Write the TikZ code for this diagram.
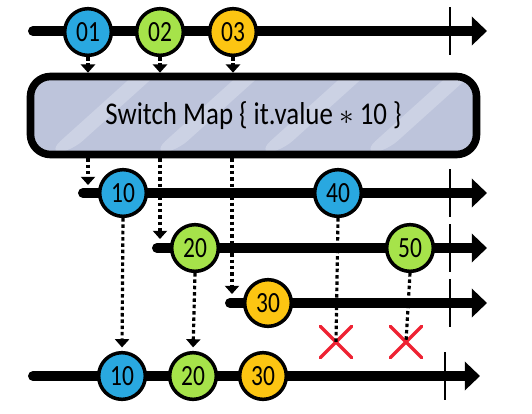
\documentclass[tikz,border=0pt]{standalone}
\usepackage{fontspec}
\setmainfont{Carlito}[FakeStretch=0.85]
\newfontfamily\marblefont{Carlito}[FakeStretch=0.8]
\usetikzlibrary{arrows.meta, positioning, calc, shapes.misc}

\definecolor{marbleblue}{HTML}{29A8E0}
\definecolor{marblegreen}{HTML}{A6E34A}
\definecolor{marbleyellow}{HTML}{FCC512}
\definecolor{opfill}{HTML}{BDC4DB}
\definecolor{opstripe}{HTML}{CCD2E4}
\definecolor{dropred}{HTML}{EE2233}

\begin{document}
\begin{tikzpicture}[
    x=0.03cm, y=-0.03cm,
    timeline/.style={line width=8.5pt, line cap=round, -{Triangle[length=13pt,width=24pt]}},
    tick/.style={line width=1.6pt},
    marble/.style={circle, draw=black, line width=3pt, minimum size=1.4cm, inner sep=0pt, font=\marblefont\fontsize{25}{25}\selectfont},
    opbox/.style={rectangle, rounded corners=0.6cm, draw=black, fill=opfill, line width=6.5pt, minimum width=13.38cm, minimum height=2.34cm, font=\fontsize{27}{29}\selectfont},
    dotarrow/.style={line width=2.7pt, dash pattern=on 3pt off 2.4pt, -{Triangle[length=7pt,width=12pt]}},
    dotline/.style={line width=2.7pt, dash pattern=on 3pt off 2.4pt},
    dropx/.style={cross out, draw=dropred, line width=2.8pt, line cap=round, minimum size=0.85cm, inner sep=0pt}
]
\useasboundingbox (0,0) rectangle (532,413);

% source and result timelines
\coordinate (srcL) at (33,31);   \coordinate (srcR) at (487,31);
\coordinate (aL) at (83,193);    \coordinate (aR) at (487,193);
\coordinate (bL) at (157,248);   \coordinate (bR) at (487,248);
\coordinate (cL) at (230,303);   \coordinate (cR) at (487,303);
\coordinate (outL) at (33,376);  \coordinate (outR) at (480,376);

\draw[timeline] (srcL) -- (srcR);
\draw[timeline] (aL) -- (aR);
\draw[timeline] (bL) -- (bR);
\draw[timeline] (cL) -- (cR);
\draw[timeline] (outL) -- (outR);

% completion ticks
\foreach \y in {31,193,248,303}
    \draw[tick] (450,\y-24) -- (450,\y+24);
\draw[tick] (445,376-24) -- (445,376+24);

% operator box
\node[opbox, path picture={
    \foreach \s in {0,1,2,3,4}
        \fill[opstripe] ($(path picture bounding box.south west)+(\s*105+15,0)$)
            -- ++(22,0) -- ++(100,-90) -- ++(-22,0) -- cycle;
}] (switch) at (253.5,115.5) {Switch Map \{ it.value $\ast$ 10 \}};

% marbles
\node[marble, fill=marbleblue]   (in1) at (88,32)  {01};
\node[marble, fill=marblegreen]  (in2) at (160,32) {02};
\node[marble, fill=marbleyellow] (in3) at (233,32) {03};

\node[marble, fill=marbleblue]   (a1) at (123,193) {10};
\node[marble, fill=marbleblue]   (a2) at (338,193) {40};
\node[marble, fill=marblegreen]  (b1) at (195,248) {20};
\node[marble, fill=marblegreen]  (b2) at (410,248) {50};
\node[marble, fill=marbleyellow] (c1) at (268,303) {30};

\node[marble, fill=marbleblue]   (out1) at (122,376) {10};
\node[marble, fill=marblegreen]  (out2) at (193,376) {20};
\node[marble, fill=marbleyellow] (out3) at (263,376) {30};

% dropped values
\node[dropx] (xa) at (336,342) {};
\node[dropx] (xb) at (406,342) {};

% connectors
\draw[dotarrow] (in1.south) -- (in1.south |- switch.north);
\draw[dotarrow] (in2.south) -- (in2.south |- switch.north);
\draw[dotarrow] (in3.south) -- (in3.south |- switch.north);

\coordinate (dropa) at (88,185);
\coordinate (dropb) at (160,239);
\coordinate (dropc) at (232,294);
\draw[dotarrow] (switch.south -| dropa) -- (dropa);
\draw[dotarrow] (switch.south -| dropb) -- (dropb);
\draw[dotarrow] (switch.south -| dropc) -- (dropc);

\draw[dotarrow, shorten >=3pt] (a1.south) -- (out1.north);
\draw[dotarrow, shorten >=3pt] (b1.south) -- (out2.north);
\draw[dotline] (a2.south) -- (xa.center);
\draw[dotline] (b2.south) -- (xb.center);

\end{tikzpicture}
\end{document}
